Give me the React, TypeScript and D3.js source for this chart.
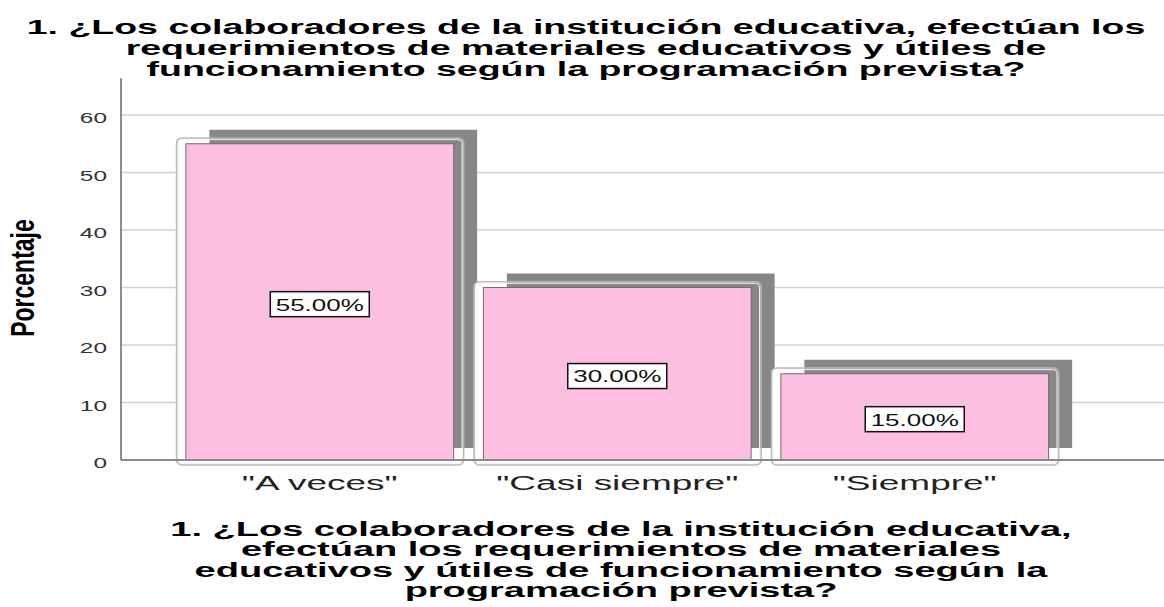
import React from "react";
import * as d3 from "d3";

const categories = ['"A veces"', '"Casi siempre"', '"Siempre"'];
const values = [55, 30, 15];
const valueLabels = ["55.00%", "30.00%", "15.00%"];
const yTicks = [0, 10, 20, 30, 40, 50, 60];
const titleLines = [
  "1. ¿Los colaboradores de la institución educativa, efectúan los",
  "requerimientos de materiales educativos y útiles de",
  "funcionamiento según la programación prevista?",
];
const xTitleLines = [
  "1. ¿Los colaboradores de la institución educativa,",
  "efectúan los requerimientos de materiales",
  "educativos y útiles de funcionamiento según la",
  "programación prevista?",
];
const yTitle = "Porcentaje";

const W = 1164;
const H = 607;
const FONT = "'Liberation Sans', Arial, Helvetica, sans-serif";

type STextProps = {
  x: number;
  y: number;
  sx: number;
  size: number;
  weight?: string | number;
  anchor?: "start" | "middle" | "end";
  fill?: string;
  rotate?: number;
  children: React.ReactNode;
};

function SText({ x, y, sx, size, weight = "normal", anchor = "middle", fill = "#000", rotate = 0, children }: STextProps) {
  return (
    <text
      transform={`translate(${x},${y}) scale(${sx},1)${rotate ? ` rotate(${rotate})` : ""}`}
      fontFamily={FONT}
      fontSize={size}
      fontWeight={weight}
      textAnchor={anchor}
      fill={fill}
    >
      {children}
    </text>
  );
}

export default function App() {
  const plotLeft = 121;
  const plotRight = W;
  const y = d3.scaleLinear().domain([0, 60]).range([460, 115]);
  const x = d3
    .scaleBand<string>()
    .domain(categories)
    .range([plotLeft, plotRight])
    .paddingInner(0.1)
    .paddingOuter(0.303)
    .align(0.36);
  const bw = x.bandwidth();
  const axisTop = y(66.4);
  const base = y(0);

  return (
    <svg
      width={W}
      height={H}
      viewBox={`0 0 ${W} ${H}`}
      style={{ position: "absolute", left: 0, top: 0, display: "block", background: "#fff" }}
    >
      <rect x={0} y={0} width={W} height={H} fill="#fff" />
      {/* Title */}
      {titleLines.map((t, i) => (
        <SText key={i} x={586} y={34 + i * 21} sx={1.786} size={21} weight="bold">
          {t}
        </SText>
      ))}

      {/* gridlines */}
      {yTicks.filter((t) => t > 0).map((t) => (
        <line key={t} x1={plotLeft} x2={plotRight} y1={y(t)} y2={y(t)} stroke="#d2d2d2" strokeWidth={1.5} />
      ))}

      {/* bars */}
      {categories.map((c, i) => {
        const bx = x(c)!;
        const top = y(values[i]);
        const h = base - top;
        const ox = bx - 9.3;
        const oy = top - 5.75;
        const ow = bw + 19.3;
        const oh = h + 10.75;
        return (
          <g key={c}>
            <rect x={ox} y={oy} width={ow} height={oh} rx={5} fill="#fff" />
            <rect x={bx + 23.5} y={top - 14} width={bw} height={h + 2} fill="#878787" />
            <rect x={ox} y={oy} width={ow} height={oh} rx={5} fill="none" stroke="#b9b9b9" strokeWidth={1.6} />
            <rect x={ox + 1.6} y={oy + 1.6} width={ow - 3.2} height={oh - 3.2} rx={4} fill="none" stroke="#f4f4f4" strokeWidth={1} />
            <rect x={bx} y={top} width={bw} height={h} fill="#fcbfdf" stroke="#7a6674" strokeWidth={1} />
          </g>
        );
      })}

      {/* axes */}
      <line x1={plotLeft} x2={plotRight} y1={base} y2={base} stroke="#8a8a8a" strokeWidth={2} />
      <line x1={plotLeft} x2={plotLeft} y1={axisTop} y2={base} stroke="#666" strokeWidth={1.5} />

      {/* y tick labels */}
      {yTicks.map((t) => (
        <SText key={t} x={107} y={y(t) + 8.3} sx={1.63} size={15} anchor="end" fill="#333">
          {String(t)}
        </SText>
      ))}

      {/* y title */}
      <SText x={34} y={278} sx={1.45} size={23} weight="bold" rotate={-90}>
        {yTitle}
      </SText>

      {/* value labels */}
      {categories.map((c, i) => {
        const cx = x(c)! + bw / 2;
        const cy = (y(values[i]) + base) / 2 + 2.3;
        return (
          <g key={c}>
            <rect x={cx - 49.5} y={cy - 12.5} width={99} height={25} fill="#fff" stroke="#111" strokeWidth={1.5} />
            <SText x={cx} y={cy + 6.4} sx={1.53} size={17} fill="#111">
              {valueLabels[i]}
            </SText>
          </g>
        );
      })}

      {/* x tick labels */}
      {categories.map((c) => (
        <SText key={c} x={x(c)! + bw / 2} y={490} sx={1.85} size={20} fill="#222">
          {c}
        </SText>
      ))}

      {/* x title */}
      {xTitleLines.map((t, i) => (
        <SText key={i} x={621} y={536 + i * 20.3} sx={1.81} size={21} weight="bold">
          {t}
        </SText>
      ))}
    </svg>
  );
}
